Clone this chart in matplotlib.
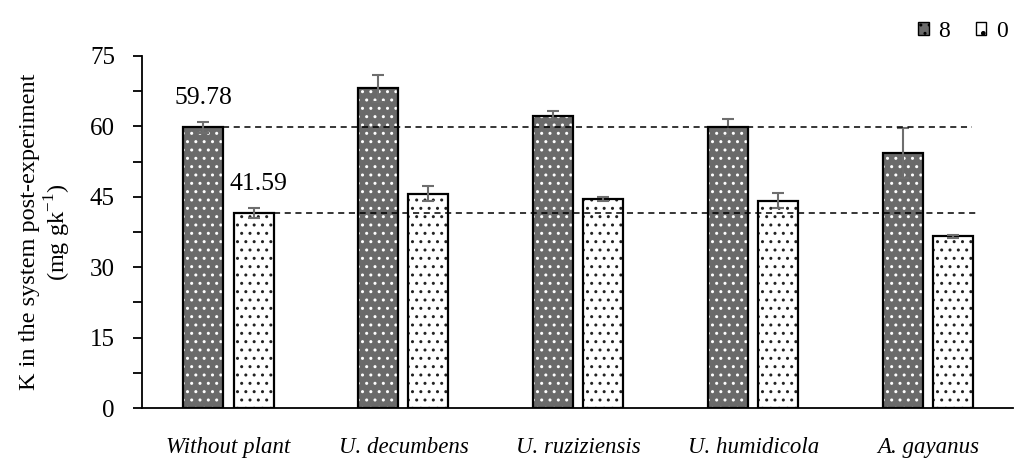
import numpy as np
import matplotlib
matplotlib.use('Agg')
from matplotlib import pyplot as plt
from matplotlib.patches import Patch

categories = ['Without plant', 'U. decumbens', 'U. ruziziensis', 'U. humidicola', 'A. gayanus']
k_8 = [59.78, 68.1, 62.3, 59.8, 54.4]
k_8_err = [1.2, 2.8, 1.0, 1.8, 5.3]
k_0 = [41.59, 45.7, 44.6, 44.2, 36.6]
k_0_err = [1.0, 1.5, 0.4, 1.6, 0.3]
series_labels = ['8', '0']

plt.rcParams['font.family'] = ['Liberation Serif', 'DejaVu Serif']
plt.rcParams['hatch.linewidth'] = 1.0

fig = plt.figure(figsize=(10.19, 4.59), dpi=100)
ax = fig.add_axes([0.1394, 0.111, 0.8546, 0.767])

x = np.arange(len(categories))
w = 0.2286
off = 0.143
dark = '#6a6a6a'

# fill with hatch, then draw the outline on top
ax.bar(x - off, k_8, w, color=dark, edgecolor='white', hatch='..', lw=0, zorder=2)
ax.bar(x - off, k_8, w, fill=False, edgecolor='black', lw=1.6, zorder=3)
ax.bar(x + off, k_0, w, color='white', edgecolor='#222222', hatch='..', lw=0, zorder=2)
ax.bar(x + off, k_0, w, fill=False, edgecolor='black', lw=1.6, zorder=3)

ax.errorbar(x - off, k_8, yerr=k_8_err, fmt='none', ecolor='#6e6e6e', elinewidth=1.5, capsize=4.5, capthick=1.5, zorder=4)
ax.errorbar(x + off, k_0, yerr=k_0_err, fmt='none', ecolor='#6e6e6e', elinewidth=1.5, capsize=4.5, capthick=1.5, zorder=4)

# reference lines from the control treatment
ax.hlines(k_8[0], x[0] - off + w / 2, 4.25, colors='black', linestyles=(0, (4, 3)), lw=1.1, zorder=5)
ax.hlines(k_0[0], x[0] + off + w / 2, 4.28, colors='black', linestyles=(0, (4, 3)), lw=1.1, zorder=5)

ax.text(x[0] - off, k_8[0] + 4.0, f'{k_8[0]:.2f}', ha='center', va='bottom', fontsize=18.5)
ax.text(x[0] + off + 0.03, k_0[0] + 3.8, f'{k_0[0]:.2f}', ha='center', va='bottom', fontsize=18.5)

ax.set_xlim(-0.494, 4.483)
ax.set_ylim(0, 75)
ax.set_yticks(np.arange(0, 76, 15))
ax.set_yticks(np.arange(0, 76, 7.5), minor=True)
ax.tick_params(axis='y', which='both', length=6.5, width=1.3, labelsize=18, direction='out', pad=13)
ax.tick_params(axis='x', length=0, labelsize=16.5, pad=21)
ax.set_xticks(x)
ax.set_xticklabels(categories, style='italic')
for s in ['top', 'right']:
    ax.spines[s].set_visible(False)
ax.spines['left'].set_linewidth(1.3)
ax.spines['bottom'].set_linewidth(1.3)

ax.set_ylabel('K in the system post-experiment\n(mg gk$^{\\mathregular{-1}}$)', fontsize=17.5,
              labelpad=12, linespacing=1.15)

handles = [Patch(facecolor=dark, edgecolor='black', hatch='..', lw=1),
           Patch(facecolor='white', edgecolor='black', hatch='.', lw=1)]
fig.legend(handles, series_labels, loc='upper right', bbox_to_anchor=(0.998, 0.975), ncol=2,
           frameon=False, fontsize=17, handlelength=0.45, handleheight=0.45,
           handletextpad=0.4, columnspacing=1.1, borderaxespad=0)

plt.savefig('out.png', dpi=100)
